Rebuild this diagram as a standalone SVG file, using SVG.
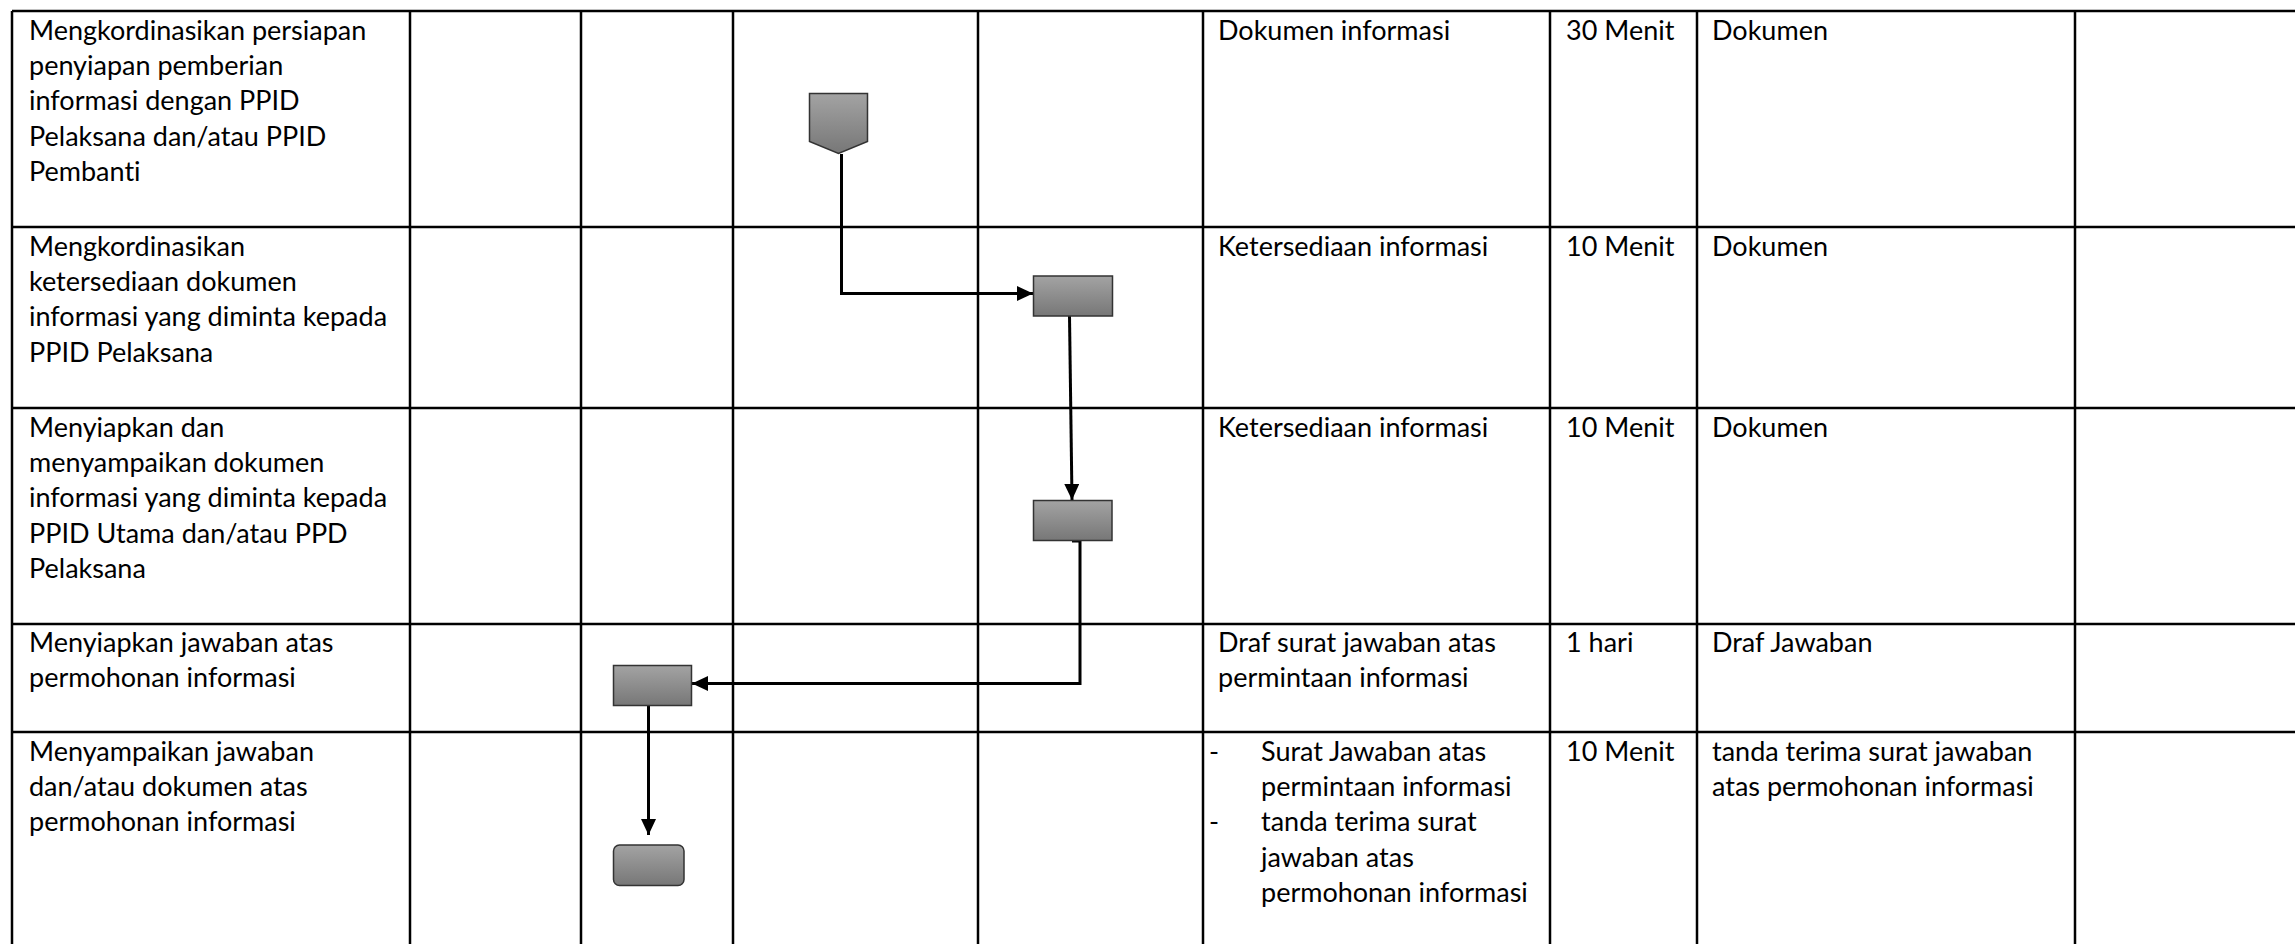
<svg xmlns="http://www.w3.org/2000/svg" width="2295" height="944" viewBox="0 0 2295 944">
<defs>
<linearGradient id="g" x1="0" y1="0" x2="0" y2="1">
<stop offset="0" stop-color="#a3a3a3"/>
<stop offset="1" stop-color="#777777"/>
</linearGradient>
<marker id="ah" markerUnits="userSpaceOnUse" markerWidth="17" markerHeight="16" refX="16" refY="7.5" orient="auto">
<path d="M0,0 L16,7.5 L0,15 z" fill="#000"/>
</marker>
<style>
.grid line{stroke:#000;stroke-width:2.5}
.shape{fill:url(#g);stroke:#333;stroke-width:1.5}
.conn path{fill:none;stroke:#000;stroke-width:3;marker-end:url(#ah)}
text{font-family:Lato,"Liberation Sans",sans-serif;font-size:27px;fill:#000;font-variant-ligatures:none}
</style>
</defs>
<rect width="2295" height="944" fill="#fff"/>
<g class="grid">
<line x1="12" y1="11" x2="2295" y2="11"/>
<line x1="12" y1="227" x2="2295" y2="227"/>
<line x1="12" y1="408" x2="2295" y2="408"/>
<line x1="12" y1="624" x2="2295" y2="624"/>
<line x1="12" y1="732" x2="2295" y2="732"/>
<line x1="12" y1="11" x2="12" y2="944"/>
<line x1="410" y1="11" x2="410" y2="944"/>
<line x1="581" y1="11" x2="581" y2="944"/>
<line x1="733" y1="11" x2="733" y2="944"/>
<line x1="978" y1="11" x2="978" y2="944"/>
<line x1="1203" y1="11" x2="1203" y2="944"/>
<line x1="1550" y1="11" x2="1550" y2="944"/>
<line x1="1697" y1="11" x2="1697" y2="944"/>
<line x1="2075" y1="11" x2="2075" y2="944"/>
</g>
<g id="texts">
<text x="29" y="40">Mengkordinasikan persiapan</text>
<text x="29" y="75">penyiapan pemberian</text>
<text x="29" y="110">informasi dengan PPID</text>
<text x="29" y="146">Pelaksana dan/atau PPID</text>
<text x="29" y="181">Pembanti</text>
<text x="29" y="256">Mengkordinasikan</text>
<text x="29" y="291">ketersediaan dokumen</text>
<text x="29" y="326">informasi yang diminta kepada</text>
<text x="29" y="362">PPID Pelaksana</text>
<text x="29" y="437">Menyiapkan dan</text>
<text x="29" y="472">menyampaikan dokumen</text>
<text x="29" y="507">informasi yang diminta kepada</text>
<text x="29" y="543">PPID Utama dan/atau PPD</text>
<text x="29" y="578">Pelaksana</text>
<text x="29" y="652">Menyiapkan jawaban atas</text>
<text x="29" y="687">permohonan informasi</text>
<text x="29" y="761">Menyampaikan jawaban</text>
<text x="29" y="796">dan/atau dokumen atas</text>
<text x="29" y="831">permohonan informasi</text>
<text x="1218" y="40">Dokumen informasi</text>
<text x="1218" y="256">Ketersediaan informasi</text>
<text x="1218" y="437">Ketersediaan informasi</text>
<text x="1218" y="652">Draf surat jawaban atas</text>
<text x="1218" y="687">permintaan informasi</text>
<text x="1209" y="761">-</text>
<text x="1261" y="761">Surat Jawaban atas</text>
<text x="1261" y="796">permintaan informasi</text>
<text x="1209" y="831">-</text>
<text x="1261" y="831">tanda terima surat</text>
<text x="1261" y="867">jawaban atas</text>
<text x="1261" y="902">permohonan informasi</text>
<text x="1566" y="40">30 Menit</text>
<text x="1566" y="256">10 Menit</text>
<text x="1566" y="437">10 Menit</text>
<text x="1566" y="652">1 hari</text>
<text x="1566" y="761">10 Menit</text>
<text x="1712" y="40">Dokumen</text>
<text x="1712" y="256">Dokumen</text>
<text x="1712" y="437">Dokumen</text>
<text x="1712" y="652">Draf Jawaban</text>
<text x="1712" y="761">tanda terima surat jawaban</text>
<text x="1712" y="796">atas permohonan informasi</text>
</g>
<g class="conn" id="connectors">
<path d="M841.5,154 V293.5 H1033"/>
<path d="M1069.5,316 L1072,500"/>
<path d="M1072,541 H1080 V683.5 H692"/>
<path d="M648.5,705.5 V835"/>
</g>
<g id="n1"><path class="shape" d="M809.5,93.5 H867.5 V141.5 L838.5,153.5 L809.5,141.5 Z"/></g>
<g id="n2"><rect class="shape" x="1033.5" y="276" width="79" height="40"/></g>
<g id="n3"><rect class="shape" x="1033.5" y="500.5" width="78.5" height="40"/></g>
<g id="n4"><rect class="shape" x="613.5" y="665.5" width="78" height="40"/></g>
<g id="n5"><rect class="shape" x="613.5" y="845" width="70.5" height="40.5" rx="6" ry="6"/></g>
</svg>
